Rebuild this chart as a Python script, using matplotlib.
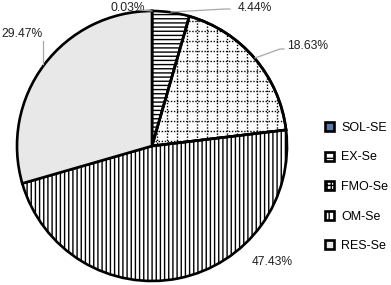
import matplotlib
matplotlib.use("Agg")
import matplotlib.pyplot as plt
import matplotlib.patches as mpatches
import numpy as np

plt.rcParams['font.family'] = ['Liberation Sans', 'DejaVu Sans']
plt.rcParams['hatch.linewidth'] = 1.0

labels = ["SOL-SE", "EX-Se", "FMO-Se", "OM-Se", "RES-Se"]
values = [0.03, 4.44, 18.63, 47.43, 29.47]
pct_text = ["0.03%", "4.44%", "18.63%", "47.43%", "29.47%"]

W, H = 391, 285
fig = plt.figure(figsize=(W / 100, H / 100), dpi=100)
ax = fig.add_axes([0, 0, 1, 1])

cx, cy, R = 152, H - 146, 135

faces = ["#5a78a8", "white", "white", "white", "#e8e8e8"]
hatches = [None, "----", None, "||||", None]
EW = 1.9

wedges, _ = ax.pie(values, startangle=90, counterclock=False, center=(cx, cy),
                   radius=R, colors=faces, frame=True,
                   wedgeprops=dict(edgecolor="black", linewidth=EW))
ax.set_xlim(0, W)
ax.set_ylim(0, H)
ax.set_aspect('equal')
ax.axis('off')
for w, h in zip(wedges, hatches):
    if h:
        w.set_hatch(h)

# dotted grid for FMO-Se
fmo = wedges[2]
step = 10
for x in np.arange(cx + 5, cx + R + 1, step):
    ln, = ax.plot([x, x], [cy - R, cy + R], color="black", lw=1.0,
                  linestyle=(0, (1, 1.2)), zorder=fmo.get_zorder() + 0.1)
    ln.set_clip_path(fmo)
for y in np.arange(cy - R, cy + R, step):
    ln, = ax.plot([cx, cx + R], [y, y], color="black", lw=1.0,
                  linestyle=(0, (1, 1.2)), zorder=fmo.get_zorder() + 0.1)
    ln.set_clip_path(fmo)
edge = mpatches.Wedge(fmo.center, fmo.r, fmo.theta1, fmo.theta2, facecolor="none",
                      edgecolor="black", linewidth=EW, zorder=fmo.get_zorder() + 0.2)
ax.add_patch(edge)

# labels and leader lines (pixel coords, y measured from top)
label_pos = [(128, 8), (255, 8), (308, 46), (272, 262), (22, 34)]
leaders = [
    [(140, 10), (152, 11)],
    [(171, 12), (225, 9), (230, 9)],
    [(255, 58), (280, 49), (284, 49)],
    None,
    [(43, 41), (43, 64)],
]
for (x, y), t in zip(label_pos, pct_text):
    ax.text(x, H - y, t, ha='center', va='center', fontsize=8.7, color="#222222")
for ld in leaders:
    if ld:
        xs = [p[0] for p in ld]
        ys = [H - p[1] for p in ld]
        ax.plot(xs, ys, color="#a8a8a8", lw=0.9, zorder=5)

# legend
handles = []
leg_hatch = [None, "---", "++++", "||", None]
for lab, fc, hh in zip(labels, faces, leg_hatch):
    handles.append(mpatches.Patch(facecolor=fc, edgecolor="black", linewidth=EW,
                                  hatch=hh, label=lab))
leg = ax.legend(handles=handles, loc='upper left', bbox_to_anchor=(325 / W, 1 - 122 / H),
                frameon=False, fontsize=9, handlelength=0.75, handleheight=0.75,
                handletextpad=0.55, labelspacing=1.4, borderaxespad=0, borderpad=0)

fig.savefig("out.png", dpi=100)
